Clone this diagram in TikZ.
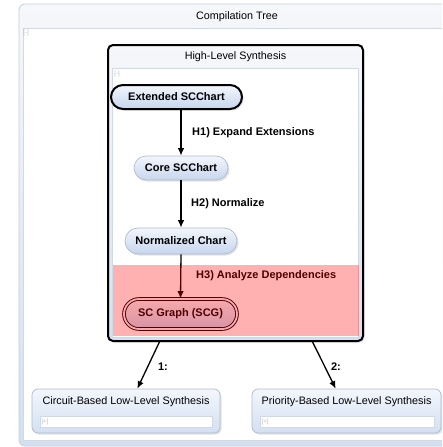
\documentclass[tikz,border=0pt]{standalone}
\usepackage{fontspec}
\setmainfont{Liberation Sans}
\usetikzlibrary{arrows.meta,shapes.misc,shadows,calc}

\definecolor{framebd}{HTML}{C6CEDA}
\definecolor{areabd}{HTML}{D3D9E2}
\definecolor{frametop}{HTML}{F6F7FA}
\definecolor{framebot}{HTML}{D3E0F2}
\definecolor{nodetop}{HTML}{F3F6FC}
\definecolor{nodebot}{HTML}{C6D6EE}
\definecolor{nodebd}{HTML}{AFBBCE}
\definecolor{marker}{HTML}{B4B8C0}

\tikzset{
  txt/.style={font=\fontsize{10.8}{13}\selectfont, inner sep=0pt},
  btxt/.style={font=\fontsize{11}{13}\selectfont\bfseries, inner sep=0pt},
  toggle/.style={font=\fontsize{6}{7}\selectfont, text=marker, inner sep=0pt},
  softshadow/.style={drop shadow={opacity=0.22, shadow xshift=1.6pt, shadow yshift=-1.6pt}},
  treeframe/.style={rectangle, rounded corners=6pt, draw=framebd, line width=0.8pt,
    top color=frametop, bottom color=framebot, inner sep=0pt},
  synthframe/.style={rectangle, rounded corners=5pt, draw=black, line width=2pt,
    top color=frametop, bottom color=framebot, inner sep=0pt, softshadow},
  lowframe/.style={rectangle, rounded corners=6pt, draw=nodebd, line width=0.7pt,
    top color=nodetop, bottom color=framebot, inner sep=0pt, softshadow},
  childarea/.style={fill=white, draw=areabd, line width=0.6pt},
  stateA/.style={rounded rectangle, btxt, top color=nodetop, bottom color=nodebot,
    inner sep=0pt, softshadow},
  plainstate/.style={stateA, draw=nodebd, line width=0.7pt},
  initstate/.style={stateA, draw=black, line width=2pt},
  finalstate/.style={stateA, draw=black, line width=0.9pt, double=nodetop, double distance=1.8pt},
  flow/.style={draw=black, line width=1.3pt, -{Latex[length=7.5pt,width=6.5pt]}},
  highlight/.style={fill=red, fill opacity=0.31},
}

\begin{document}
\begin{tikzpicture}[x=1pt,y=-1pt]
\useasboundingbox[fill=white] (0,0) rectangle (442,447);
\begin{scope}
\clip (0,0) rectangle (442,447);

% Compilation tree container
\node[treeframe, minimum width=436pt, minimum height=442pt] (tree) at (237,225) {};
\draw[areabd, line width=0.6pt] (23,28) -- (455,28);
\draw[childarea] (23,28) rectangle (455,440);
\node[txt] (treetitle) at (237,16.5) {Compilation Tree};
\node[toggle] (treetoggle) at (26,33) {[-]};

% High-level synthesis container
\node[synthframe, minimum width=255pt, minimum height=296pt] (hls) at (235.5,193) {};
\draw[childarea] (112.5,68) rectangle (358.5,337);
\node[txt] (hlstitle) at (235.5,56.5) {High-Level Synthesis};
\node[toggle] (hlstoggle) at (117,74) {[-]};

% Transformation chain
\node[initstate, minimum width=131pt, minimum height=24pt] (ext) at (176.5,97) {Extended SCChart};
\node[plainstate, minimum width=94pt, minimum height=24pt] (core) at (181,168) {Core SCChart};
\node[plainstate, minimum width=112pt, minimum height=26pt] (norm) at (181,241) {Normalized Chart};
\node[finalstate, minimum width=113pt, minimum height=30pt] (scg) at (180.5,314) {SC Graph (SCG)};

\draw[flow] (core.north |- ext.south) -- (core.north);
\draw[flow] (core.south) -- (norm.north);
\draw[flow] (norm.south) -- (scg.north);

\node[btxt, anchor=west] (h1) at (192,133) {H1) Expand Extensions};
\node[btxt, anchor=west] (h2) at (191,204) {H2) Normalize};
\node[btxt, anchor=west] (h3) at (196,276) {H3) Analyze Dependencies};

% Highlighted dependency analysis step
\fill[highlight] (112.5,265) rectangle (358.5,336);

% Low-level synthesis alternatives
\node[lowframe, minimum width=188pt, minimum height=44pt] (circ) at (126,411) {};
\draw[fill=white, draw=areabd, line width=0.6pt] (40,416) rectangle (212,427);
\node[txt] (circtitle) at (126,402) {Circuit-Based Low-Level Synthesis};
\node[toggle] (circtoggle) at (45,421.5) {[+]};

\node[lowframe, minimum width=189pt, minimum height=44pt] (prio) at (346.5,411) {};
\draw[fill=white, draw=areabd, line width=0.6pt] (260,416) rectangle (434,427);
\node[txt] (priotitle) at (346.5,402) {Priority-Based Low-Level Synthesis};
\node[toggle] (priotoggle) at (265,421.5) {[+]};

\draw[flow] ($(hls.south west)!0.204!(hls.south east)$) -- ($(circ.north west)!0.56!(circ.north east)$);
\draw[flow] ($(hls.south west)!0.8!(hls.south east)$) -- ($(prio.north west)!0.443!(prio.north east)$);
\node[btxt] (l1) at (163,367) {1:};
\node[btxt] (l2) at (336,367) {2:};
\end{scope}
\end{tikzpicture}
\end{document}
